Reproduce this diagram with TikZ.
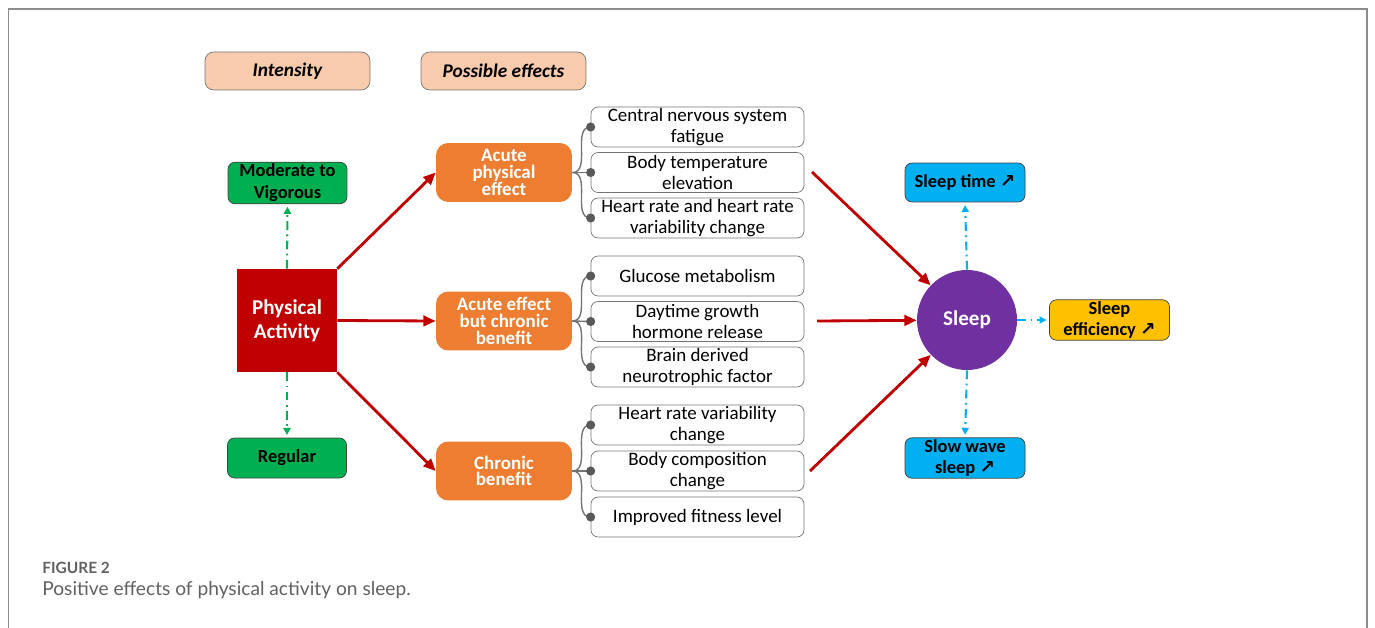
\documentclass[tikz,border=0pt]{standalone}
\usepackage{fontspec}
\setmainfont{Carlito}
\newfontfamily\capfont{Lato}
\newfontfamily\arrowfont{DejaVu Sans}
\usetikzlibrary{arrows.meta,positioning}
\definecolor{peach}{RGB}{248,203,173}
\definecolor{grn}{RGB}{0,176,80}
\definecolor{darkred}{RGB}{192,0,0}
\definecolor{orng}{RGB}{237,125,49}
\definecolor{purp}{RGB}{112,48,160}
\definecolor{skyb}{RGB}{0,176,240}
\definecolor{gold}{RGB}{255,192,0}
\definecolor{linegray}{RGB}{115,115,115}
\definecolor{framegray}{RGB}{140,140,140}
\newcommand{\uparrowsym}{{\arrowfont\bfseries ↗}}

\begin{document}
\begin{tikzpicture}[x=0.02cm,y=-0.02cm,
  head/.style={draw=linegray,fill=peach,rounded corners=5pt,minimum width=3.3cm,minimum height=0.76cm,font=\fontsize{11}{13}\selectfont\bfseries\itshape},
  level/.style={draw=black!75,fill=grn,rounded corners=4pt,minimum width=2.38cm,minimum height=0.8cm,inner sep=1pt,align=center,font=\fontsize{10.5}{12.5}\selectfont\bfseries},
  effect/.style={fill=orng,rounded corners=7pt,minimum width=2.72cm,minimum height=1.18cm,align=center,text=white,font=\fontsize{10.8}{9.5}\selectfont\bfseries},
  item/.style={draw=linegray,rounded corners=4pt,minimum width=4.26cm,minimum height=0.8cm,align=center,inner xsep=2pt,inner ysep=0pt,font=\fontsize{10.8}{12.4}\selectfont},
  result/.style={draw=black!75,rounded corners=4pt,minimum width=2.4cm,minimum height=0.78cm,align=center,inner sep=1pt,font=\fontsize{10.5}{12}\selectfont\bfseries},
  redarrow/.style={-{Triangle[length=7pt,width=6pt]},darkred,line width=1.6pt},
  dashdot/.style={-{Triangle[length=4pt,width=4pt]},line width=1.2pt,shorten >=1.5pt,dash pattern=on 5pt off 2.5pt on 1pt off 2.5pt},
  brk/.style={linegray,line width=0.8pt}]
\useasboundingbox (0,0) rectangle (1375,628);
\draw[framegray,line width=1.1pt] (8.5,628) -- (8.5,9) -- (1367,9) -- (1367,628);

% column heads
\node[head] (intens) at (287.5,71) {Intensity};
\node[head] (poss) at (503.5,71) {Possible effects};

% intensity
\node[level] (modvig) at (287.5,183) {Moderate to\\Vigorous};
\node[fill=darkred,minimum width=2cm,minimum height=2.06cm,align=center,text=white,font=\fontsize{12}{13.6}\selectfont\bfseries] (pa) at (287,320.5) {Physical\\Activity};
\node[level] (reg) at (287,458) {Regular};
\draw[dashdot,grn] (pa.north) -- (modvig.south);
\draw[dashdot,grn] (pa.south) -- (reg.north);

% possible effects
\node[effect] (acute) at (504,172.5) {Acute\\physical\\effect};
\node[effect] (mixed) at (504,321) {Acute effect\\but chronic\\benefit};
\node[effect] (chronic) at (504,471) {Chronic\\benefit};
\draw[redarrow] (pa.north east) -- (acute.west);
\draw[redarrow] (pa.east) -- (mixed.west);
\draw[redarrow] (pa.south east) -- (chronic.west);

\node[item] (cns) at (697.5,127) {Central nervous system\\fatigue};
\node[item] (temp) at (697.5,172.5) {Body temperature\\elevation};
\node[item] (hrva) at (697.5,218) {Heart rate and heart rate\\variability change};
\node[item] (gluc) at (697.5,276) {Glucose metabolism};
\node[item] (gh) at (697.5,321.5) {Daytime growth\\hormone release};
\node[item] (bdnf) at (697.5,367) {Brain derived\\neurotrophic factor};
\node[item] (hrvb) at (697.5,425) {Heart rate variability\\change};
\node[item] (body) at (697.5,471) {Body composition\\change};
\node[item] (fit) at (697.5,517) {Improved fitness level};

\foreach \src/\ta/\tb/\tc in {acute/cns/temp/hrva,mixed/gluc/gh/bdnf,chronic/hrvb/body/fit}{
  \draw[brk] (\src.east) to[out=0,in=180] (\ta.west);
  \draw[brk] (\src.east) -- (\tb.west);
  \draw[brk] (\src.east) to[out=0,in=180] (\tc.west);
  \foreach \t in {\ta,\tb,\tc}
    \fill[black!65] (\t.west) circle (2.6pt);
}

% sleep
\node[circle,fill=purp,minimum size=2cm,text=white,font=\fontsize{12}{14}\selectfont\bfseries] (sleep) at (967,320) {Sleep};
\node[result,fill=skyb] (stime) at (965,182.5) {Sleep time \uparrowsym};
\node[result,fill=skyb] (sws) at (965,458) {Slow wave\\sleep \uparrowsym};
\node[result,fill=gold] (eff) at (1109.5,320) {Sleep\\efficiency \uparrowsym};
\coordinate (ina) at (812,172);
\coordinate (inb) at (817,321);
\coordinate (inc) at (810,471);
\draw[redarrow] (ina) -- (sleep);
\draw[redarrow] (inb) -- (sleep);
\draw[redarrow] (inc) -- (sleep);
\draw[dashdot,skyb] (sleep.north) -- (stime.south);
\draw[dashdot,skyb] (sleep.south) -- (sws.north);
\draw[dashdot,skyb] (sleep.east) -- (eff.west);

% caption
\node[anchor=west,inner sep=0pt,text=black!62,font=\capfont\fontsize{8.8}{10}\selectfont\bfseries] (fignum) at (42,568) {FIGURE 2};
\node[anchor=west,inner sep=0pt,text=black!62,font=\capfont\fontsize{10.9}{12}\selectfont] (figcap) at (42,590) {Positive effects of physical activity on sleep.};
\end{tikzpicture}
\end{document}
